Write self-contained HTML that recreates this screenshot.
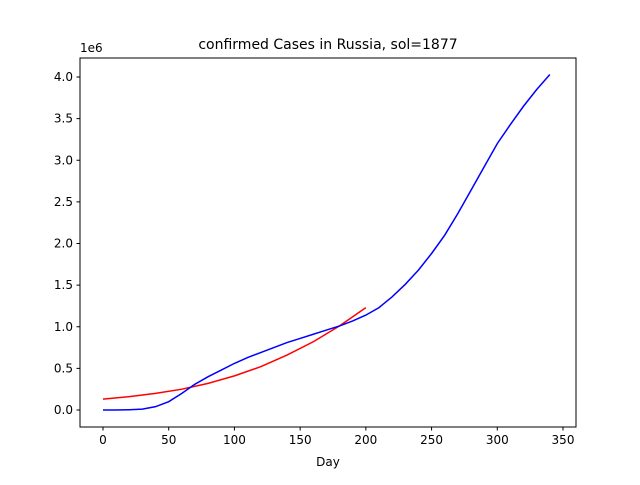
<!DOCTYPE html>
<html><head><meta charset="utf-8"><style>
body{margin:0;background:#fff;}
svg text{font-family:"DejaVu Sans","Liberation Sans",sans-serif;fill:#000;}
</style></head><body>
<svg width="640" height="480" xmlns="http://www.w3.org/2000/svg">
<rect width="640" height="480" fill="#fff"/>
<text x="328" y="49" font-size="14" text-anchor="middle">confirmed Cases in Russia, sol=1877</text>
<g id="plot"></g>
<rect x="80" y="58" width="496" height="369" fill="none" stroke="#000" stroke-width="1"/>
<text x="80" y="52" font-size="12">1e6</text>
<text x="328" y="466" font-size="12" text-anchor="middle">Day</text>
</svg>
<script>
const blueDays=[0,10,20,30,40,50,60,70,80,90,100,110,120,130,140,150,160,170,180,190,200,210,220,230,240,250,260,270,280,290,300,310,320,330,340];
const blueVals=[0,0,0.003,0.01,0.04,0.1,0.2,0.31,0.4,0.48,0.56,0.63,0.69,0.75,0.81,0.86,0.91,0.96,1.01,1.07,1.14,1.23,1.36,1.51,1.68,1.88,2.1,2.36,2.64,2.92,3.2,3.43,3.65,3.85,4.03];
const redDays=[0,20,40,60,80,100,120,140,160,180,200];
const redVals=[0.13,0.16,0.2,0.25,0.32,0.41,0.52,0.66,0.82,1.01,1.23];
const xTicks=[0,50,100,150,200,250,300,350];
const yTicks=[0,0.5,1.0,1.5,2.0,2.5,3.0,3.5,4.0];
const xs=d=>103+d*(460/350);
const ys=v=>410-v*(333/4);
const g=document.getElementById('plot');
const NS='http://www.w3.org/2000/svg';
function mk(t,a){const e=document.createElementNS(NS,t);for(const k in a)e.setAttribute(k,a[k]);g.appendChild(e);return e;}
xTicks.forEach(t=>{
 const l=mk('line',{x1:xs(t),x2:xs(t),y1:427,y2:430.5,stroke:'#000'});
 
 
 const tx=mk('text',{x:xs(t),y:444,'font-size':12,'text-anchor':'middle'});tx.textContent=t;
 
 
});
yTicks.forEach(t=>{
 const l=mk('line',{x1:76.5,x2:80,y1:ys(t),y2:ys(t),stroke:'#000'});
 
 
 const tx=mk('text',{x:73,y:ys(t)+4,'font-size':12,'text-anchor':'end'});tx.textContent=t.toFixed(1);
 
 
});
function line(ds,vs,c,n){
 const p=mk('polyline',{points:ds.map((d,i)=>xs(d)+','+ys(vs[i])).join(' '),fill:'none',stroke:c,'stroke-width':1.5});
 
 
}
line(redDays,redVals,'#ff0000','fitted-line');
line(blueDays,blueVals,'#0000ff','confirmed-line');
</script>
</body></html>
